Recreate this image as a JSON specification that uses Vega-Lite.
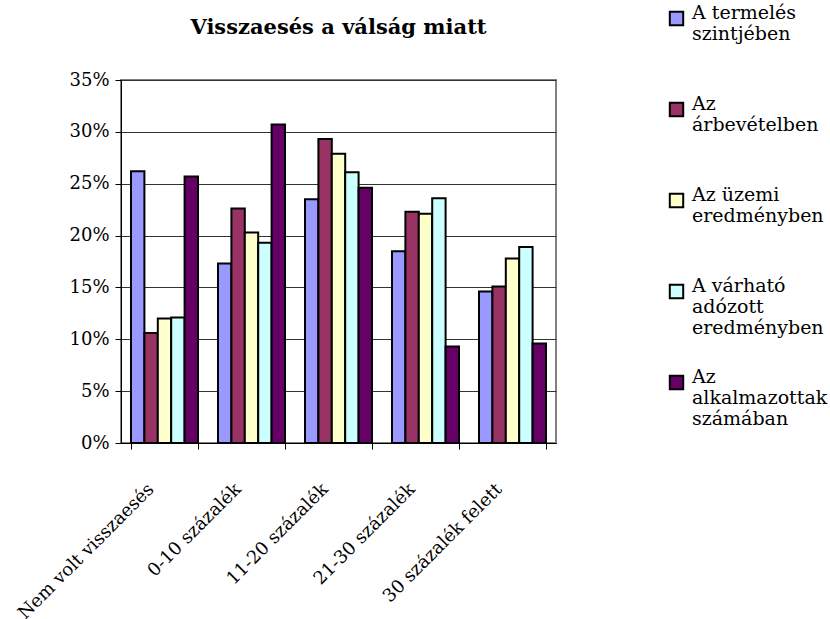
{
  "$schema": "https://vega.github.io/schema/vega-lite/v6.json",
  "width": 435,
  "height": 363,
  "autosize": {"type": "none"},
  "padding": {"left": 121, "top": 80, "right": 274, "bottom": 176},
  "background": "white",
  "title": {
    "text": "Visszaesés a  válság miatt",
    "font": "DejaVu Serif",
    "fontSize": 21,
    "fontWeight": "bold",
    "color": "black",
    "anchor": "middle",
    "frame": "group",
    "baseline": "alphabetic",
    "offset": -46
  },
  "data": {
    "values": [
      {"cat": "Nem volt visszaesés", "series": "A termelés szintjében", "value": 0.262},
      {"cat": "Nem volt visszaesés", "series": "Az árbevételben", "value": 0.106},
      {"cat": "Nem volt visszaesés", "series": "Az üzemi eredményben", "value": 0.120},
      {"cat": "Nem volt visszaesés", "series": "A várható adózott eredményben", "value": 0.121},
      {"cat": "Nem volt visszaesés", "series": "Az alkalmazottak számában", "value": 0.257},
      {"cat": "0-10 százalék", "series": "A termelés szintjében", "value": 0.173},
      {"cat": "0-10 százalék", "series": "Az árbevételben", "value": 0.226},
      {"cat": "0-10 százalék", "series": "Az üzemi eredményben", "value": 0.203},
      {"cat": "0-10 százalék", "series": "A várható adózott eredményben", "value": 0.193},
      {"cat": "0-10 százalék", "series": "Az alkalmazottak számában", "value": 0.307},
      {"cat": "11-20 százalék", "series": "A termelés szintjében", "value": 0.235},
      {"cat": "11-20 százalék", "series": "Az árbevételben", "value": 0.293},
      {"cat": "11-20 százalék", "series": "Az üzemi eredményben", "value": 0.279},
      {"cat": "11-20 százalék", "series": "A várható adózott eredményben", "value": 0.261},
      {"cat": "11-20 százalék", "series": "Az alkalmazottak számában", "value": 0.246},
      {"cat": "21-30 százalék", "series": "A termelés szintjében", "value": 0.185},
      {"cat": "21-30 százalék", "series": "Az árbevételben", "value": 0.223},
      {"cat": "21-30 százalék", "series": "Az üzemi eredményben", "value": 0.221},
      {"cat": "21-30 százalék", "series": "A várható adózott eredményben", "value": 0.236},
      {"cat": "21-30 százalék", "series": "Az alkalmazottak számában", "value": 0.093},
      {"cat": "30 százalék felett", "series": "A termelés szintjében", "value": 0.146},
      {"cat": "30 százalék felett", "series": "Az árbevételben", "value": 0.151},
      {"cat": "30 százalék felett", "series": "Az üzemi eredményben", "value": 0.178},
      {"cat": "30 százalék felett", "series": "A várható adózott eredményben", "value": 0.189},
      {"cat": "30 százalék felett", "series": "Az alkalmazottak számában", "value": 0.096}
    ]
  },
  "mark": {"type": "bar", "stroke": "black", "strokeWidth": 2},
  "encoding": {
    "x": {
      "field": "cat",
      "type": "nominal",
      "sort": null,
      "scale": {"paddingInner": 0.23, "paddingOuter": 0.115},
      "axis": {
        "title": null,
        "labelAngle": -45,
        "labelAlign": "right",
        "labelBaseline": "top",
        "tickBand": "extent",
        "domainColor": "black",
        "tickColor": "black",
        "tickSize": 6,
        "labelFont": "DejaVu Serif",
        "labelFontSize": 18,
        "labelColor": "black",
        "labelPadding": 31,
        "labelOffset": -20,
        "labelLimit": 300
      }
    },
    "xOffset": {
      "field": "series",
      "type": "nominal",
      "sort": ["A termelés szintjében", "Az árbevételben", "Az üzemi eredményben", "A várható adózott eredményben", "Az alkalmazottak számában"],
      "scale": {"paddingInner": 0, "paddingOuter": 0}
    },
    "y": {
      "field": "value",
      "type": "quantitative",
      "scale": {"domain": [0, 0.35]},
      "axis": {
        "title": null,
        "format": ".0%",
        "values": [0, 0.05, 0.1, 0.15, 0.2, 0.25, 0.3, 0.35],
        "grid": true,
        "gridColor": "#333333",
        "gridOpacity": 1,
        "domainColor": "black",
        "tickColor": "black",
        "tickSize": 6,
        "labelFont": "DejaVu Serif",
        "labelFontSize": 18,
        "labelColor": "black",
        "labelPadding": 6
      }
    },
    "color": {
      "field": "series",
      "type": "nominal",
      "scale": {
        "domain": ["A termelés szintjében", "Az árbevételben", "Az üzemi eredményben", "A várható adózott eredményben", "Az alkalmazottak számában"],
        "range": ["#9999FF", "#993366", "#FFFFCC", "#CCFFFF", "#660066"]
      },
      "legend": {
        "title": null,
        "orient": "none",
        "legendX": 546,
        "legendY": -71,
        "gridAlign": "all",
        "symbolType": "square",
        "symbolSize": 180,
        "symbolStrokeColor": "black",
        "symbolStrokeWidth": 2,
        "symbolOpacity": 1,
        "labelFont": "DejaVu Serif",
        "labelFontSize": 19,
        "labelColor": "black",
        "labelBaseline": "alphabetic",
        "labelOffset": 6,
        "labelLimit": 300,
        "rowPadding": 29,
        "labelExpr": "datum.label == 'A termelés szintjében' ? ['A termelés', 'szintjében'] : datum.label == 'Az árbevételben' ? ['Az', 'árbevételben'] : datum.label == 'Az üzemi eredményben' ? ['Az  üzemi', 'eredményben'] : datum.label == 'A várható adózott eredményben' ? ['A várható', 'adózott', 'eredményben'] : ['Az', 'alkalmazottak', 'számában']"
      }
    }
  },
  "config": {
    "view": {"stroke": "#808080", "strokeWidth": 2}
  }
}
